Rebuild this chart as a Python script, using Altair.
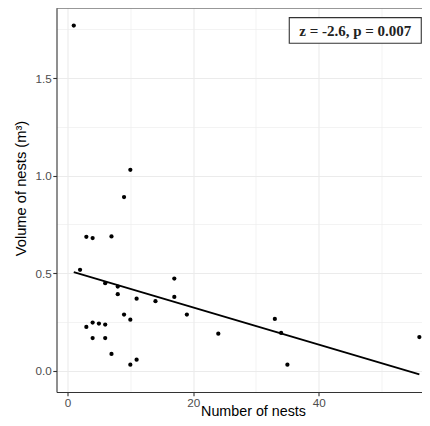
import altair as alt
import pandas as pd

# Scatter data: number of nests vs nest volume (m^3)
nest_counts = [1, 10, 9, 3, 4, 7, 2, 6, 8, 8, 17, 17, 11, 14, 19, 9, 10,
               3, 4, 5, 6, 4, 6, 7, 11, 10, 24, 33, 34, 35, 56]
volumes = [1.77, 1.03, 0.89, 0.686, 0.68, 0.688, 0.517, 0.448, 0.431, 0.392,
           0.472, 0.378, 0.369, 0.356, 0.287, 0.287, 0.261, 0.224, 0.246,
           0.241, 0.236, 0.167, 0.167, 0.085, 0.056, 0.03, 0.189, 0.265,
           0.193, 0.03, 0.172]

# Fitted line end points
line_x = [1, 56]
line_y = [0.505, -0.02]

# Annotation
label_text = ["z = -2.6, p = 0.007"]
label_x = [45.8]
label_y = [1.745]

x_ticks = [0, 10, 20, 30, 40, 50]
y_ticks = [0, 0.25, 0.5, 0.75, 1.0, 1.25, 1.5, 1.75]

W = 365.5
H = 384

pts = pd.DataFrame({"n": nest_counts, "v": volumes})
fit = pd.DataFrame({"n": line_x, "v": line_y})
lab = pd.DataFrame({"n": label_x, "v": label_y, "t": label_text})

xscale = alt.Scale(domain=[-1.75, 56.42], nice=False, zero=False)
yscale = alt.Scale(domain=[-0.11, 1.86], nice=False, zero=False)

xaxis = alt.Axis(
    values=x_ticks,
    labelExpr="datum.value % 20 === 0 ? datum.label : ''",
    tickOpacity={"condition": {"test": "datum.value % 20 !== 0", "value": 0}, "value": 1},
    gridWidth={"condition": {"test": "datum.value % 20 !== 0", "value": 0.6}, "value": 1.1},
    title="Number of nests",
    titleX=196.5, titleY=23.5, titleAlign="center", titleBaseline="alphabetic",
    titleFontSize=14.3,
)
yaxis = alt.Axis(
    values=y_ticks, format=".1f",
    labelExpr="datum.value % 0.5 === 0 ? datum.label : ''",
    tickOpacity={"condition": {"test": "datum.value % 0.5 !== 0", "value": 0}, "value": 1},
    gridWidth={"condition": {"test": "datum.value % 0.5 !== 0", "value": 0.6}, "value": 1.1},
    title="Volume of nests (m³)",
    titleX=-31.5, titleY=180, titleAlign="center", titleBaseline="alphabetic", titleAngle=270,
)

base_x = alt.X("n:Q", scale=xscale, axis=xaxis)
base_y = alt.Y("v:Q", scale=yscale, axis=yaxis)

points = alt.Chart(pts).mark_circle(size=18, color="black", opacity=1).encode(x=base_x, y=base_y)
line = alt.Chart(fit).mark_line(color="black", strokeWidth=1.8).encode(x="n:Q", y="v:Q")
box = alt.Chart(lab).mark_rect(
    fill="white", stroke="#333333", strokeWidth=1.1,
    xOffset=-66, x2Offset=66, yOffset=-12.8, y2Offset=12.8,
).encode(x="n:Q", x2="n:Q", y="v:Q", y2="v:Q")
text = alt.Chart(lab).mark_text(
    font="Liberation Serif", fontWeight="bold", fontSize=15, color="#222222",
    align="center", baseline="middle", dy=0.5,
).encode(x="n:Q", y="v:Q", text="t:N")
top_border = alt.Chart(lab).mark_rule(color="#333333", strokeWidth=1.1).encode(
    x=alt.value(0), x2=alt.value(W), y=alt.value(0)
)

chart = alt.layer(points, line, box, text, top_border).properties(
    width=W, height=H,
    autosize=alt.AutoSizeParams(type="none"),
    padding={"left": 48.5, "top": 0, "right": 0, "bottom": 26},
).configure_view(stroke=None).configure_axis(
    domainColor="#333333", domainWidth=1.1,
    tickColor="#333333", tickWidth=1.1, tickSize=3.7,
    gridColor="#ebebeb",
    labelFont="Liberation Sans", labelFontSize=11.7, labelColor="#4d4d4d", labelPadding=1.5,
    titleFont="Liberation Sans", titleFontSize=14.7, titleColor="black", titleFontWeight="normal",
)

chart.save("out.html", embed_options={"renderer": "svg", "actions": False})
